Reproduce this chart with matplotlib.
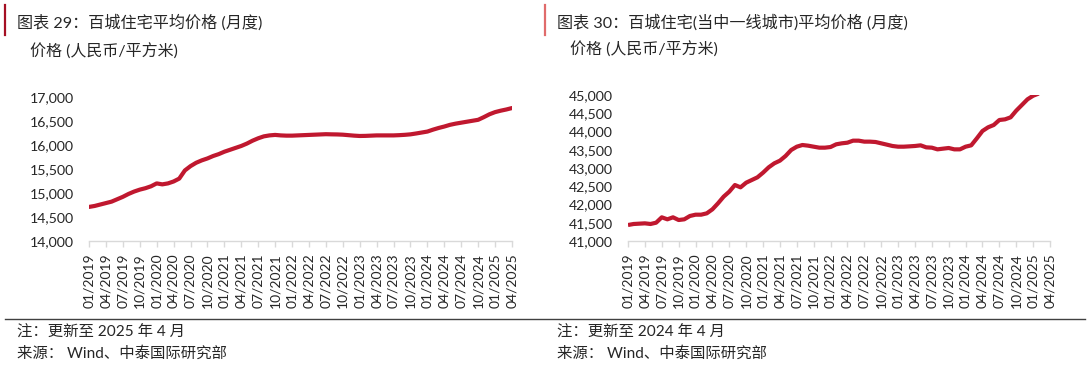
import matplotlib
matplotlib.use("Agg")
import matplotlib.pyplot as plt
import numpy as np

plt.rcParams['font.family'] = ['Lato', 'Noto Sans CJK SC', 'DejaVu Sans']

# ---------------- data ----------------
tick_labels = ["01/2019", "04/2019", "07/2019", "10/2019", "01/2020", "04/2020",
               "07/2020", "10/2020", "01/2021", "04/2021", "07/2021", "10/2021",
               "01/2022", "04/2022", "07/2022", "10/2022", "01/2023", "04/2023",
               "07/2023", "10/2023", "01/2024", "04/2024", "07/2024", "10/2024",
               "01/2025", "04/2025"]

# 百城住宅平均价格, monthly from 01/2019 to 04/2025
price_100 = [14710, 14730, 14760, 14790, 14820, 14870, 14920, 14980, 15030, 15070,
             15100, 15140, 15200, 15180, 15200, 15240, 15300, 15470, 15560, 15630,
             15680, 15720, 15770, 15810, 15860, 15900, 15940, 15980, 16030, 16090,
             16140, 16180, 16200, 16210, 16200, 16195, 16195, 16200, 16205, 16210,
             16215, 16220, 16225, 16222, 16220, 16215, 16205, 16195, 16188, 16190,
             16195, 16200, 16200, 16200, 16200, 16205, 16212, 16222, 16240, 16260,
             16280, 16320, 16355, 16385, 16420, 16445, 16465, 16485, 16505, 16525,
             16580, 16640, 16685, 16715, 16740, 16770]

# 百城住宅(一线城市)平均价格, monthly from 01/2019
price_tier1 = [41438, 41466, 41475, 41484, 41466, 41502, 41649, 41594, 41649, 41575,
               41594, 41685, 41721, 41721, 41758, 41868, 42033, 42215, 42352, 42534,
               42470, 42598, 42671, 42744, 42872, 43018, 43128, 43201, 43329, 43493,
               43584, 43630, 43612, 43584, 43557, 43557, 43575, 43649, 43676, 43694,
               43749, 43749, 43722, 43722, 43712, 43676, 43640, 43603, 43584, 43584,
               43593, 43603, 43621, 43566, 43557, 43511, 43530, 43548, 43511, 43511,
               43584, 43621, 43813, 44014, 44115, 44178, 44315, 44333, 44388, 44571,
               44726, 44882, 44980, 45040]

left_yticks = [14000, 14500, 15000, 15500, 16000, 16500, 17000]
right_yticks = [41000, 41500, 42000, 42500, 43000, 43500, 44000, 44500, 45000]

titles = ["图表 29：百城住宅平均价格 (月度)", "图表 30：百城住宅(当中一线城市)平均价格 (月度)"]
unit_label = "价格 (人民币/平方米)"
notes = ["注：更新至 2025 年 4 月", "注：更新至 2024 年 4 月"]
source = "来源： Wind、中泰国际研究部"

# ---------------- layout ----------------
W, H = 1090, 365
fig = plt.figure(figsize=(W / 100, H / 100), dpi=100)
fig.patch.set_facecolor("white")

LINE_COLOR = "#c0182f"
TEXT_COLOR = "#262626"
n_months = len(tick_labels) * 3 - 2  # 76 months


def px_axes(x0, y_top, x1, y_bot):
    return fig.add_axes([x0 / W, 1 - y_bot / H, (x1 - x0) / W, (y_bot - y_top) / H])


def style_axes(ax, yticks):
    ax.set_xlim(0, n_months - 1)
    ax.set_ylim(yticks[0], yticks[-1])
    for s in ["top", "right", "left"]:
        ax.spines[s].set_visible(False)
    ax.spines["bottom"].set_color("#d9d9d9")
    ax.spines["bottom"].set_linewidth(1.0)
    ax.set_xticks(np.arange(0, n_months, 3))
    ax.set_xticklabels(tick_labels, rotation=90, fontsize=10, color=TEXT_COLOR)
    ax.tick_params(axis="x", direction="out", length=4, width=1, color="#d9d9d9", pad=5)
    ax.set_yticks(yticks)
    ax.set_yticklabels([f"{v:,}" for v in yticks], fontsize=10.2, color=TEXT_COLOR)
    ax.tick_params(axis="y", length=0, pad=11)
    ax.set_facecolor("none")


ax1 = px_axes(89, 97, 512, 241)
months1 = np.arange(len(price_100))
ax1.plot(months1, price_100, color=LINE_COLOR, lw=3.0, solid_capstyle="round")
style_axes(ax1, left_yticks)

ax2 = px_axes(628, 95, 1050, 241)
months2 = np.arange(len(price_tier1))
ax2.plot(months2, price_tier1, color=LINE_COLOR, lw=3.0, solid_capstyle="butt")
style_axes(ax2, right_yticks)

# ---------------- decorations ----------------
def fx(x):
    return x / W


def fy(y):
    return 1 - y / H


# red bars beside titles
fig.add_artist(plt.Line2D([fx(5), fx(5)], [fy(5), fy(35)], color="#a50f23", lw=1.6))
fig.add_artist(plt.Line2D([fx(545), fx(545)], [fy(5), fy(35)], color="#e06b6b", lw=1.6))

fig.text(fx(17), fy(22), titles[0], fontsize=11.6, color=TEXT_COLOR, va="center", ha="left")
fig.text(fx(557), fy(22), titles[1], fontsize=11.6, color=TEXT_COLOR, va="center", ha="left")

fig.text(fx(30), fy(52), unit_label, fontsize=11.5, color=TEXT_COLOR, va="center", ha="left")
fig.text(fx(570), fy(50), unit_label, fontsize=11.5, color=TEXT_COLOR, va="center", ha="left")

# bottom rule
fig.add_artist(plt.Line2D([fx(5), fx(1085)], [fy(319), fy(319)], color="#404040", lw=1.0))

fig.text(fx(17), fy(332), notes[0], fontsize=11.1, color=TEXT_COLOR, va="center", ha="left")
fig.text(fx(557), fy(332), notes[1], fontsize=11.1, color=TEXT_COLOR, va="center", ha="left")
fig.text(fx(17), fy(353), source, fontsize=11.1, color=TEXT_COLOR, va="center", ha="left")
fig.text(fx(557), fy(353), source, fontsize=11.1, color=TEXT_COLOR, va="center", ha="left")

fig.savefig("out.png", dpi=100, facecolor="white")
